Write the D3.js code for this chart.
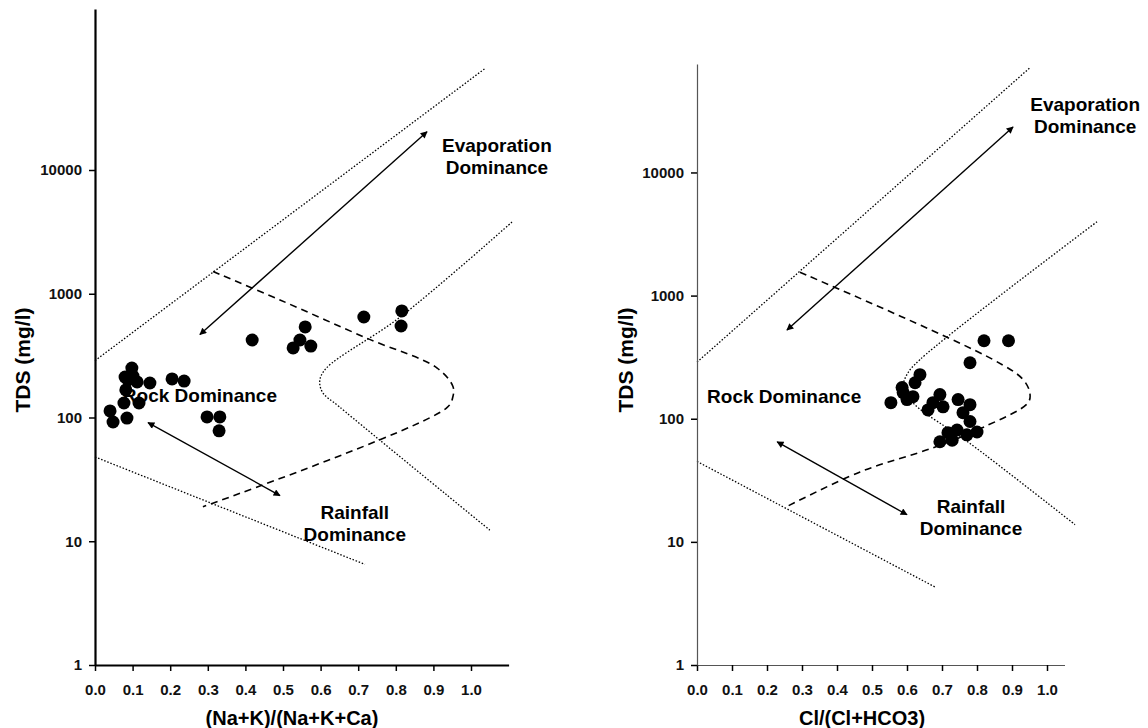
<!DOCTYPE html>
<html>
<head>
<meta charset="utf-8">
<script src="https://cdn.jsdelivr.net/npm/d3@7"></script>
<style>
  body { margin: 0; background: #fff; }
  svg { font-family: "Liberation Sans", Arial, sans-serif; }
</style>
</head>
<body>
<svg id="chart" width="1148" height="728"></svg>
<script>
// tick labels
const xTicks = [0, 0.1, 0.2, 0.3, 0.4, 0.5, 0.6, 0.7, 0.8, 0.9, 1.0];
const yTicks = [1, 10, 100, 1000, 10000];

// samples, left: (Na+K)/(Na+K+Ca) vs TDS
const naRatio = [0.040, 0.048, 0.085, 0.077, 0.117, 0.082, 0.146, 0.098, 0.080, 0.112, 0.088, 0.101, 0.205, 0.237,
  0.298, 0.332, 0.330, 0.418, 0.527, 0.545, 0.559, 0.574, 0.715, 0.816, 0.814];
const naTds = [113, 92, 99, 131, 131, 167, 190, 251, 212, 194, 201, 216, 205, 197,
  101, 101, 78, 423, 365, 423, 539, 378, 649, 726, 549];

// samples, right: Cl/(Cl+HCO3) vs TDS
const clRatio = [0.780, 0.637, 0.623, 0.586, 0.554, 0.600, 0.617, 0.589, 0.694, 0.674, 0.660, 0.703, 0.746,
  0.780, 0.760, 0.780, 0.800, 0.771, 0.743, 0.717, 0.729, 0.694, 0.820, 0.890];
const clTds = [285, 228, 196, 179, 135, 143, 151, 163, 157, 135, 118, 125, 143,
  130, 112, 95, 78, 74, 81, 77, 67, 65, 430, 430];

// Gibbs boundaries [ratio, TDS]
const leftUpper = [[0, 288], [1.037, 66000]];
const leftRight = [[1.109, 3800], [0.811, 646], [0.615, 250], [0.598, 200], [0.605, 160], [0.65, 122], [1.05, 12.3]];
const leftLower = [[0, 48], [0.718, 6.5]];
const leftDashed = [[0.314, 1514], [0.492, 891], [0.723, 437], [0.910, 251], [0.952, 178], [0.952, 148], [0.936, 120], [0.287, 19]];
const leftEvapArrow = [[0.279, 468], [0.883, 20400]];
const leftRainArrow = [[0.141, 91], [0.492, 23.4]];

const rightUpper = [[0, 288], [0.951, 70800]];
const rightRight = [[1.143, 3980], [0.637, 302], [0.6, 229], [0.589, 178], [0.62, 132], [0.78, 63], [1.08, 13.8]];
const rightLower = [[0, 45], [0.68, 4.3]];
const rightDashed = [[0.294, 1549], [0.846, 302], [0.931, 209], [0.951, 162], [0.946, 135], [0.817, 85], [0.674, 58], [0.466, 37], [0.251, 19]];
const rightEvapArrow = [[0.257, 525], [0.903, 23400]];
const rightRainArrow = [[0.229, 65], [0.60, 16.6]];

// labels [ratio, TDS, lines]
const leftLabels = [[1.069, 15850, ["Evaporation", "Dominance"]], [0.279, 152, ["Rock Dominance"]], [0.691, 17.2, ["Rainfall", "Dominance"]]];
const rightLabels = [[1.109, 35700, ["Evaporation", "Dominance"]], [0.249, 151, ["Rock Dominance"]], [0.783, 19.3, ["Rainfall", "Dominance"]]];

const svg = d3.select("#chart");

// arrow heads
const defs = svg.append("defs");
["start", "end"].forEach(k => {
    defs.append("marker")
        .attr("id", "head-" + k)
        .attr("viewBox", "0 0 10 10")
        .attr("refX", k === "end" ? 9 : 1)
        .attr("refY", 5)
        .attr("markerWidth", 9)
        .attr("markerHeight", 7)
        .attr("markerUnits", "userSpaceOnUse")
        .attr("orient", "auto")
        .append("path")
        .attr("d", k === "end" ? "M0,0L10,5L0,10Z" : "M10,0L0,5L10,10Z")
        .attr("fill", "#000");
});

function drawPanel(cfg) {
    const g = svg.append("g");
    const x = d3.scaleLinear().domain(cfg.xDomain).range(cfg.xRange);
    const y = d3.scaleLog().domain(cfg.yDomain).range(cfg.yRange);
    const line = d3.line().x(d => x(d[0])).y(d => y(d[1]));
    const smooth = d3.line().x(d => x(d[0])).y(d => y(d[1])).curve(d3.curveCatmullRom.alpha(0.5));

    // boundary lines
    [cfg.upper, cfg.lower].forEach(pts => {
        g.append("path").attr("d", line(pts))
            .attr("fill", "none").attr("stroke", "#000")
            .attr("stroke-width", 1.3).attr("stroke-dasharray", "1.5,1.8");
    });
    g.append("path").attr("d", smooth(cfg.right))
        .attr("fill", "none").attr("stroke", "#000")
        .attr("stroke-width", 1.3).attr("stroke-dasharray", "1.5,1.8");
    g.append("path").attr("d", smooth(cfg.dashed))
        .attr("fill", "none").attr("stroke", "#000")
        .attr("stroke-width", 1.6).attr("stroke-dasharray", "7,5");

    // arrows
    [cfg.evap, cfg.rain].forEach(pts => {
        g.append("path").attr("d", line(pts))
            .attr("fill", "none").attr("stroke", "#000").attr("stroke-width", 1.4)
            .attr("marker-start", "url(#head-start)")
            .attr("marker-end", "url(#head-end)");
    });

    // points
    g.selectAll("circle.pt")
        .data(d3.zip(cfg.xs, cfg.ys))
        .join("circle")
        .attr("class", "pt")
        .attr("cx", d => x(d[0]))
        .attr("cy", d => y(d[1]))
        .attr("r", 6.5)
        .attr("fill", "#000");

    // annotations
    cfg.labels.forEach(([lx, ly, lines]) => {
        const t = g.append("text")
            .attr("x", x(lx)).attr("y", y(ly))
            .attr("text-anchor", "middle")
            .attr("font-size", "19px").attr("font-weight", "bold");
        lines.forEach((s, i) => {
            t.append("tspan").attr("x", x(lx)).attr("dy", i === 0 ? "0.35em" : "22px").text(s);
        });
    });

    // axes
    const xAxis = g.append("g")
        .attr("transform", `translate(0,${cfg.yRange[0]})`)
        .call(d3.axisBottom(x).tickValues(xTicks).tickFormat(d3.format(".1f")).tickSize(6).tickPadding(13).tickSizeOuter(0));
    const yAxis = g.append("g")
        .attr("transform", `translate(${cfg.xRange[0]},0)`)
        .call(d3.axisLeft(y).tickValues(yTicks).tickFormat(d => d).tickSize(6).tickPadding(7).tickSizeOuter(0));
    [xAxis, yAxis].forEach(a => {
        a.select(".domain").attr("stroke", cfg.axisColor).attr("stroke-width", cfg.axisWidth);
        a.selectAll(".tick line").attr("stroke", "#000").attr("stroke-width", 1.5);
        a.selectAll(".tick text")
            .attr("font-size", "15px").attr("font-weight", "bold")
            .attr("font-family", "'Liberation Sans', Arial, sans-serif").attr("fill", "#111");
    });

    // titles
    g.append("text")
        .attr("x", cfg.xTitleX).attr("y", 725)
        .attr("text-anchor", "middle")
        .attr("font-size", "20px").attr("font-weight", "bold")
        .text(cfg.xTitle);
    g.append("text")
        .attr("transform", `translate(${cfg.yTitleX},360) rotate(-90)`)
        .attr("text-anchor", "middle")
        .attr("font-size", "21px").attr("font-weight", "bold")
        .text("TDS (mg/l)");
}

drawPanel({
    xDomain: [0, 1.1], xRange: [95, 508.6],
    yDomain: [1, 200000], yRange: [665, 9],
    upper: leftUpper, right: leftRight, lower: leftLower, dashed: leftDashed,
    evap: leftEvapArrow, rain: leftRainArrow,
    xs: naRatio, ys: naTds, labels: leftLabels,
    axisColor: "#000", axisWidth: 2.2,
    xTitle: "(Na+K)/(Na+K+Ca)", xTitleX: 292, yTitleX: 30
});

drawPanel({
    xDomain: [0, 1.05], xRange: [697, 1064.5],
    yDomain: [1, 76000], yRange: [665, 64],
    upper: rightUpper, right: rightRight, lower: rightLower, dashed: rightDashed,
    evap: rightEvapArrow, rain: rightRainArrow,
    xs: clRatio, ys: clTds, labels: rightLabels,
    axisColor: "#555", axisWidth: 1.2,
    xTitle: "Cl/(Cl+HCO3)", xTitleX: 862, yTitleX: 633
});
</script>
</body>
</html>
